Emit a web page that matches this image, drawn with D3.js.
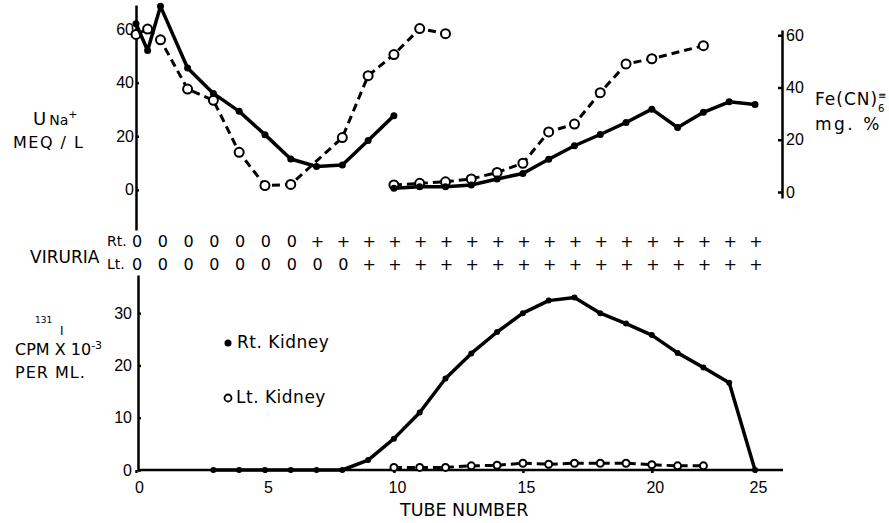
<!DOCTYPE html>
<meta charset="utf-8">
<script src="https://d3js.org/d3.v7.min.js"></script>
<style>
  body { margin: 0; background: #fff; }
  svg { font-family: "DejaVu Sans", sans-serif; }
  .axis text { font-size: 16px; fill: #000; }
  .axis path, .axis line { stroke: #000; stroke-width: 2.5px; }
</style>
<body>
<div id="my_dataviz"></div>
<script>

// ---- data ----
// urinary sodium, left part of the upper panel
var unaRtTubes = [0, 0.45, 0.95, 2, 3, 4, 5, 6, 7, 8, 9, 10];
var unaRt      = [62, 52, 68.5, 45.5, 36, 29.3, 20.6, 11.5, 8.7, 9.3, 18.4, 27.7];
var unaLtTubes = [0, 0.45, 0.95, 2, 3, 4, 5, 6, 8, 9, 10, 11, 12];
var unaLt      = [58, 60, 56, 37.6, 33.4, 14, 1.6, 2, 19.5, 42.6, 50.5, 60.2, 58.3];

// ferricyanide, right part of the upper panel
var feRtTubes = [10, 11, 12, 13, 14, 15, 16, 17, 18, 19, 20, 21, 22, 23, 24];
var feRt      = [1.4, 2, 2, 2.7, 5, 7.1, 12.5, 17.7, 22, 26.6, 31.7, 24.7, 30.5, 34.5, 33.5];
var feLtTubes = [10, 11, 12, 13, 14, 15, 16, 17, 18, 19, 20, 22];
var feLt      = [2.7, 3.3, 3.9, 5, 7.5, 11, 23, 26, 38, 49, 51, 56];

// 131I counts, lower panel
var cpmRtTubes = [3, 4, 5, 6, 7, 8, 9, 10, 11, 12, 13, 14, 15, 16, 17, 18, 19, 20, 21, 22, 23, 24];
var cpmRt      = [0, 0, 0, 0, 0, 0, 1.9, 6, 11, 17.5, 22.3, 26.4, 30, 32.4, 33, 30, 28, 25.8, 22.4, 19.6, 16.7, 0];
var cpmLtTubes = [10, 11, 12, 13, 14, 15, 16, 17, 18, 19, 20, 21, 22];
var cpmLt      = [0.5, 0.5, 0.5, 0.8, 0.9, 1.3, 1.1, 1.3, 1.3, 1.3, 1.0, 0.8, 0.8];

// viruria per tube 0..24
var viruriaRt = ["0","0","0","0","0","0","0","+","+","+","+","+","+","+","+","+","+","+","+","+","+","+","+","+","+"];
var viruriaLt = ["0","0","0","0","0","0","0","0","0","+","+","+","+","+","+","+","+","+","+","+","+","+","+","+","+"];

// tick labels
var leftTicks = [0, 20, 40, 60];
var rightTicks = [0, 20, 40, 60];
var cpmTicks = [0, 10, 20, 30];
var tubeTicks = [0, 5, 10, 15, 20, 24];
var tubeTickLabels = ["0", "5", "10", "15", "20", "25"];

// ---- svg ----
var svg = d3.select("#my_dataviz")
  .append("svg")
  .attr("width", 889)
  .attr("height", 523);

// scales
var x = d3.scaleLinear().domain([0, 24]).range([136, 755]);
var yL = d3.scaleLinear().domain([-15, 69]).range([230, 5]);
var yR = d3.scaleLinear().domain([-2.3, 62]).range([198, 30]);
var yB = d3.scaleLinear().domain([0, 37.3]).range([470, 275]);

// axes
svg.append("g")
  .attr("class", "axis")
  .attr("transform", "translate(" + x(0) + ",0)")
  .call(d3.axisLeft(yL).tickValues(leftTicks).tickSize(-3).tickSizeOuter(0).tickPadding(2));

svg.append("g")
  .attr("class", "axis")
  .attr("transform", "translate(782,0)")
  .call(d3.axisRight(yR).tickValues(rightTicks).tickSize(-4).tickSizeOuter(0).tickPadding(4));

svg.append("g")
  .attr("class", "axis")
  .attr("transform", "translate(138,0)")
  .call(d3.axisLeft(yB).tickValues(cpmTicks).tickSize(-3).tickSizeOuter(0).tickPadding(6));

var xAxis = svg.append("g")
  .attr("class", "axis")
  .attr("transform", "translate(0," + yB(0) + ")")
  .call(d3.axisBottom(x).tickValues(tubeTicks)
    .tickFormat(function (d, i) { return tubeTickLabels[i]; })
    .tickSize(3).tickSizeOuter(0).tickPadding(9));
xAxis.select(".domain").attr("d", "M138,0H783");
xAxis.selectAll("text").attr("dx", 3);

// series drawing helper
function drawSeries(tubes, values, yScale, filled, r) {
  var pts = d3.zip(tubes, values);
  var line = d3.line()
    .x(function (d) { return x(d[0]); })
    .y(function (d) { return yScale(d[1]); });
  svg.append("path")
    .datum(pts)
    .attr("fill", "none")
    .attr("stroke", "#000")
    .attr("stroke-width", filled ? 3.5 : 3)
    .attr("stroke-dasharray", filled ? null : "8,5")
    .attr("stroke-linejoin", "round")
    .attr("d", line);
  svg.append("g")
    .selectAll("circle")
    .data(pts)
    .enter().append("circle")
    .attr("cx", function (d) { return x(d[0]); })
    .attr("cy", function (d) { return yScale(d[1]); })
    .attr("r", r)
    .attr("fill", filled ? "#000" : "#fff")
    .attr("stroke", "#000")
    .attr("stroke-width", filled ? 0 : 2);
}

drawSeries(unaLtTubes, unaLt, yL, false, 4.5);
drawSeries(unaRtTubes, unaRt, yL, true, 3.5);
drawSeries(feLtTubes, feLt, yR, false, 4.5);
drawSeries(feRtTubes, feRt, yR, true, 3.5);
drawSeries(cpmLtTubes, cpmLt, yB, false, 3.5);
drawSeries(cpmRtTubes, cpmRt, yB, true, 3);

// viruria rows
svg.append("g").selectAll("text")
  .data(viruriaRt)
  .enter().append("text")
  .attr("x", function (d, i) { return x(i) + 1; })
  .attr("y", 247)
  .attr("text-anchor", "middle")
  .style("font-size", "16px")
  .text(function (d) { return d; });
svg.append("g").selectAll("text")
  .data(viruriaLt)
  .enter().append("text")
  .attr("x", function (d, i) { return x(i) + 1; })
  .attr("y", 270)
  .attr("text-anchor", "middle")
  .style("font-size", "16px")
  .text(function (d) { return d; });

// labels
function label(txt, px, py, size, extra) {
  var t = svg.append("text").attr("x", px).attr("y", py)
    .style("font-size", size + "px").text(txt);
  if (extra) t.style("letter-spacing", extra + "px");
  return t;
}

label("VIRURIA", 30, 263, 17);
label("Rt.", 107, 246, 14);
label("Lt.", 107, 269, 14);

var una = svg.append("text").attr("x", 33).attr("y", 125).style("font-size", "18px");
una.append("tspan").text("U");
una.append("tspan").attr("dx", 3).style("font-size", "14px").text("Na");
una.append("tspan").style("font-size", "11px").attr("dy", -7).text("+");
label("MEQ / L", 13, 148, 16, 1.5);

label("Fe(CN)", 815, 105, 17, 1);
label("\u2261", 878, 99, 10);
label("6", 878, 112, 10);
label("mg. %", 815, 130, 17, 2.5);

label("131", 35, 323, 9);
label("I", 60, 335, 12);
var cpm = svg.append("text").attr("x", 15).attr("y", 355).style("font-size", "16px");
cpm.append("tspan").text("CPM X 10");
cpm.append("tspan").style("font-size", "11px").attr("dy", -6).text("-3");
label("PER ML.", 15, 378, 16, 1);

// legend
svg.append("circle").attr("cx", 228).attr("cy", 343).attr("r", 3.5).attr("fill", "#000");
label("Rt. Kidney", 237, 348, 17, 0.5);
svg.append("circle").attr("cx", 228).attr("cy", 398).attr("r", 3.5)
  .attr("fill", "#fff").attr("stroke", "#000").attr("stroke-width", 1.8);
label("Lt. Kidney", 236, 403, 17, 0.5);

label("TUBE NUMBER", 400, 516, 17.5);

</script>
</body>
